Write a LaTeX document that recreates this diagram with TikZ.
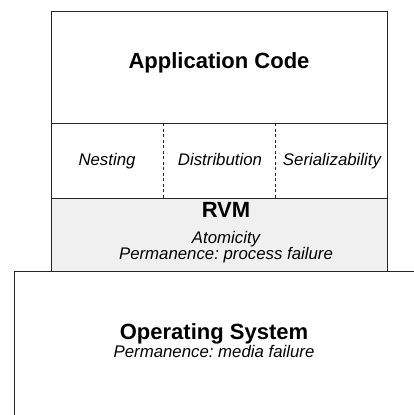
\documentclass[tikz,border=0pt]{standalone}
\usepackage{fontspec}
\setmainfont{Liberation Sans}
\frenchspacing
\begin{document}
\begin{tikzpicture}[x=1pt,y=-1pt,
  boxline/.style={draw=black!85,line width=1pt},
  divline/.style={draw=black!85,line width=0.9pt,dash pattern=on 3pt off 2.5pt},
  head/.style={inner sep=0pt,anchor=base,font=\fontsize{22}{26}\selectfont\bfseries},
  sub/.style={inner sep=0pt,anchor=base,font=\fontsize{16.8}{20}\selectfont\itshape},
  area/.style={inner sep=0pt,outer sep=0pt,anchor=north west}]
\useasboundingbox (0,0) rectangle (413,415);
% OS box (open to the right and bottom)
\coordinate (osR) at (416,271);
\coordinate (osTL) at (14,271);
\coordinate (osB) at (14,418);
\draw[boxline] (osR) -- (osTL) -- (osB);
% RVM box
\node[area,fill=black!6,minimum width=336pt,minimum height=73pt] (rvm) at (51,198) {};
% middle row
\node[area,minimum width=336pt,minimum height=75pt] (mid) at (51,123) {};
% application box
\node[area,minimum width=336pt,minimum height=112pt] (app) at (51,11) {};
\draw[boxline] (app.north west) rectangle (rvm.south east);
\draw[boxline] (app.south west) -- (app.south east);
\draw[boxline] (rvm.north west) -- (rvm.north east);
\coordinate (d1t) at (163,123);
\coordinate (d1b) at (163,198);
\coordinate (d2t) at (275,123);
\coordinate (d2b) at (275,198);
\draw[divline] (d1t) -- (d1b);
\draw[divline] (d2t) -- (d2b);
% texts
\node[head] (tapp) at (219,68) {Application Code};
\node[sub] (tnest) at (107,165) {Nesting};
\node[sub] (tdist) at (220,165) {Distribution};
\node[sub] (tser) at (332,165) {Serializability};
\node[head] (trvm) at (226,217) {RVM};
\node[sub] (tatom) at (226,243) {Atomicity};
\node[sub] (tperm) at (226,259) {Permanence: process failure};
\node[head] (tos) at (214,339) {Operating System};
\node[sub] (tosp) at (214,357) {Permanence: media failure};
\end{tikzpicture}
\end{document}
